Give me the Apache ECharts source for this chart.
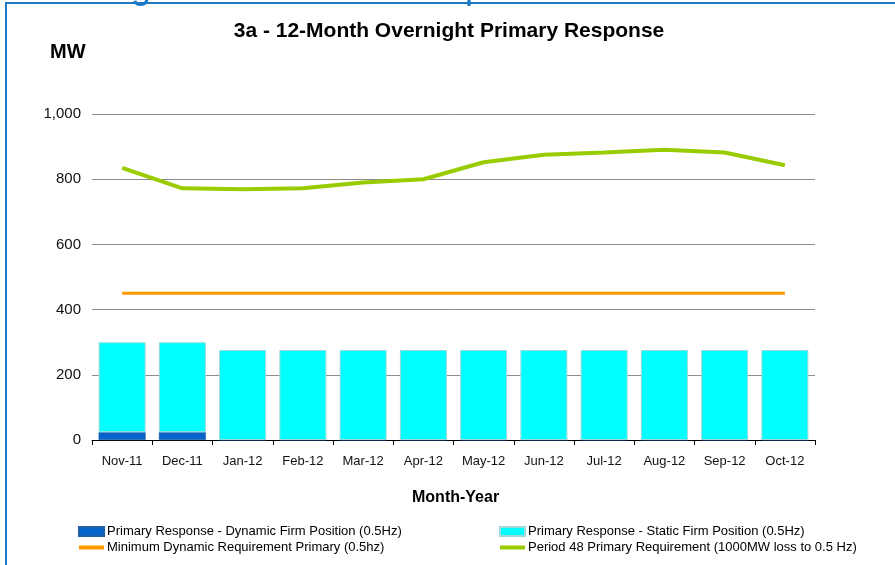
<!DOCTYPE html>
<html>
<head>
<meta charset="utf-8">
<script src="https://cdn.jsdelivr.net/npm/echarts@6/dist/echarts.min.js"></script>
<style>
    html, body { margin: 0; padding: 0; background: #fff; }
    #chart { width: 895px; height: 565px; }
</style>
</head>
<body>
<div id="chart"></div>
<script>
var months = ['Nov-11', 'Dec-11', 'Jan-12', 'Feb-12', 'Mar-12', 'Apr-12', 'May-12', 'Jun-12', 'Jul-12', 'Aug-12', 'Sep-12', 'Oct-12'];
var dynamicFirm = [24, 24, 0, 0, 0, 0, 0, 0, 0, 0, 0, 0];
var staticFirm = [276, 276, 276, 276, 276, 276, 276, 276, 276, 276, 276, 276];
var minDynamic = [450, 450, 450, 450, 450, 450, 450, 450, 450, 450, 450, 450];
var period48 = [835, 772, 769, 772, 790, 800, 852, 875, 882, 890, 882, 843];
var yTicks = [0, 200, 400, 600, 800, 1000];

var names = [
    'Primary Response - Dynamic Firm Position (0.5Hz)',
    'Primary Response - Static Firm Position (0.5Hz)',
    'Minimum Dynamic Requirement Primary (0.5hz)',
    'Period 48 Primary Requirement (1000MW loss to 0.5 Hz)'
];

var font = 'Liberation Sans, Arial, sans-serif';
var lineIcon = 'path://M0,0h25v4h-25z';
var myChart = echarts.init(document.getElementById('chart'));

var legendBase = {
    orient: 'vertical',
    top: 525,
    padding: 0,
    itemWidth: 25,
    itemHeight: 9,
    itemGap: 3,
    symbolKeepAspect: true,
    textStyle: { fontFamily: font, fontSize: 13, color: '#000', padding: [0, 0, 0, -2] }
};

var option = {
    backgroundColor: '#fff',
    animation: false,
    title: {
        text: '3a - 12-Month Overnight Primary Response',
        left: 444,
        textAlign: 'center',
        top: 16,
        textStyle: { fontFamily: font, fontSize: 21, fontWeight: 'bold', color: '#000' }
    },
    graphic: [
        { type: 'rect', shape: { x: 6, y: 3, width: 900, height: 600 }, style: { fill: 'none', stroke: '#1b79c6', lineWidth: 2 } },
        { type: 'text', left: 131, top: -30, style: { text: 'g', font: '36px ' + font, fill: '#1b79c6' } },
        { type: 'text', left: 465, top: -30, style: { text: 'p', font: '36px ' + font, fill: '#1b79c6' } },
        { type: 'text', left: 50, top: 42, style: { text: 'MW', font: 'bold 20px ' + font, fill: '#000' } },
        { type: 'text', left: 412, top: 490, style: { text: 'Month-Year', font: 'bold 16px ' + font, fill: '#000' } }
    ],
    legend: [
        echarts.util.extend({
            left: 78,
            data: [{ name: names[0], icon: 'rect' }, { name: names[2], icon: lineIcon }]
        }, legendBase),
        echarts.util.extend({
            left: 499,
            data: [{ name: names[1], icon: 'rect' }, { name: names[3], icon: lineIcon }]
        }, legendBase)
    ],
    grid: { left: 92, right: 80, top: 114, bottom: 125 },
    xAxis: {
        type: 'category',
        data: months,
        axisLine: { lineStyle: { color: '#000', width: 1 } },
        axisTick: { show: true, length: 5, lineStyle: { color: '#000' } },
        axisLabel: { fontFamily: font, fontSize: 13, color: '#111', margin: 15 }
    },
    yAxis: {
        type: 'value',
        min: yTicks[0],
        max: yTicks[yTicks.length - 1],
        interval: yTicks[1] - yTicks[0],
        axisLine: { show: false },
        axisTick: { show: false },
        splitLine: { lineStyle: { color: '#8c8c8c', width: 1 } },
        axisLabel: {
            fontFamily: font, fontSize: 15, color: '#111', margin: 11,
            formatter: function (v) { return v.toLocaleString('en-US'); }
        }
    },
    series: [
        {
            name: names[0],
            type: 'bar',
            stack: 'pr',
            barWidth: 47,
            data: dynamicFirm,
            itemStyle: { color: '#0563c9', borderColor: '#1f5fa8', borderWidth: 0.5 }
        },
        {
            name: names[1],
            type: 'bar',
            stack: 'pr',
            barWidth: 47,
            data: staticFirm,
            itemStyle: { color: '#00ffff', borderColor: '#9fd9d9', borderWidth: 1 }
        },
        {
            name: names[2],
            type: 'line',
            data: minDynamic,
            symbol: 'none',
            lineStyle: { color: '#ff9900', width: 3 },
            itemStyle: { color: '#ff9900' }
        },
        {
            name: names[3],
            type: 'line',
            data: period48,
            symbol: 'none',
            lineStyle: { color: '#99cc00', width: 4 },
            itemStyle: { color: '#99cc00' }
        }
    ]
};
myChart.setOption(option);
</script>
</body>
</html>
